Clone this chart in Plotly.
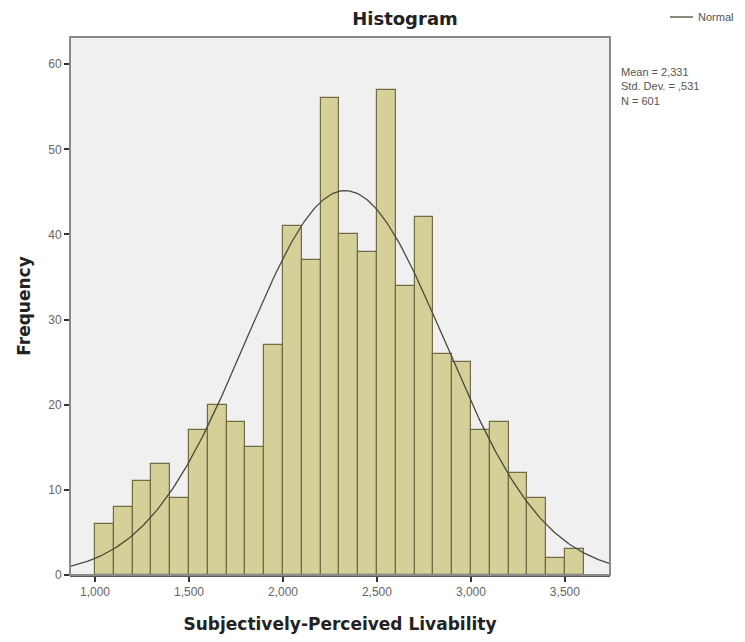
import numpy as np
import plotly.graph_objects as go

# Histogram bins (width 0.1) and counts
bin_starts = [1.0, 1.1, 1.2, 1.3, 1.4, 1.5, 1.6, 1.7, 1.8, 1.9,
              2.0, 2.1, 2.2, 2.3, 2.4, 2.5, 2.6, 2.7, 2.8, 2.9,
              3.0, 3.1, 3.2, 3.3, 3.4, 3.5]
counts = [6, 8, 11, 13, 9, 17, 20, 18, 15, 27,
          41, 37, 56, 40, 38, 57, 34, 42, 26, 25,
          17, 18, 12, 9, 2, 3]
bin_width = 0.1

# Summary statistics
mean_val = 2.331
sd_val = 0.531
n_val = 601

# Axis ticks
x_tickvals = [1.0, 1.5, 2.0, 2.5, 3.0, 3.5]
x_ticktext = ["1,000", "1,500", "2,000", "2,500", "3,000", "3,500"]
y_tickvals = [0, 10, 20, 30, 40, 50, 60]
y_ticktext = ["0", "10", "20", "30", "40", "50", "60"]

x_range = [0.867, 3.74]
y_range = [0, 63.2]

centers = [b + bin_width / 2 for b in bin_starts]

# Normal curve scaled to counts
xs = np.linspace(x_range[0], x_range[1], 300)
ys = n_val * bin_width / (sd_val * np.sqrt(2 * np.pi)) * np.exp(-0.5 * ((xs - mean_val) / sd_val) ** 2)

curve_color = "#4a4a3a"
bold_font = "DejaVu Sans, Verdana, sans-serif"

fig = go.Figure()
fig.add_trace(go.Bar(
    x=centers, y=counts, width=bin_width,
    marker=dict(color="#D5CF98", line=dict(color="#6f6b45", width=1.2)),
    showlegend=False, hoverinfo="x+y",
))
fig.add_trace(go.Scatter(
    x=xs, y=ys, mode="lines", name="Normal",
    line=dict(color=curve_color, width=1.3),
    showlegend=False,
))

fig.update_layout(
    width=745, height=642,
    margin=dict(l=70, r=135, t=37, b=67),
    paper_bgcolor="white",
    plot_bgcolor="#F0F0F0",
    bargap=0,
    showlegend=False,
    font=dict(family="Arial, Liberation Sans, sans-serif", color="#333"),
    title=dict(text="<b>Histogram</b>", x=405 / 745, xanchor="center",
               y=1 - 19 / 642, yanchor="middle",
               font=dict(size=18, color="#222", family=bold_font)),
    xaxis=dict(
        range=x_range, tickvals=x_tickvals, ticktext=x_ticktext,
        ticks="outside", ticklen=5, tickcolor="#333", tickwidth=1.5,
        tickfont=dict(size=12, color="#666"),
        showgrid=False, zeroline=False,
        showline=True, linecolor="#555", linewidth=1.5,
        title=dict(text="<b>Subjectively-Perceived Livability</b>",
                   font=dict(size=17, color="#222", family=bold_font),
                   standoff=20),
    ),
    yaxis=dict(
        range=y_range, tickvals=y_tickvals, ticktext=y_ticktext,
        ticks="outside", ticklen=5, tickcolor="#333", tickwidth=1.5,
        tickfont=dict(size=12, color="#666"),
        showgrid=False, zeroline=False,
        showline=False,
        title=dict(text="<b>Frequency</b>",
                   font=dict(size=17, color="#222", family=bold_font),
                   standoff=13),
    ),
)

# Plot frame
fig.add_shape(type="rect", xref="paper", yref="paper", x0=0, y0=0, x1=1, y1=1,
              line=dict(color="#8a8a8a", width=2), fillcolor="rgba(0,0,0,0)",
              layer="above")

# Legend key for the normal curve
fig.add_shape(type="line", xref="paper", yref="paper",
              x0=(670 - 70) / 540, x1=(693 - 70) / 540,
              y0=(575 - 17) / 538, y1=(575 - 17) / 538,
              line=dict(color=curve_color, width=1.3))
fig.add_annotation(
    xref="paper", yref="paper", x=(696 - 70) / 540, y=(575 - 17) / 538,
    xanchor="left", yanchor="middle", text="Normal", showarrow=False,
    font=dict(size=11, color="#555"),
)

fig.add_annotation(
    xref="paper", yref="paper", x=(619 - 70) / 540, y=(575 - 64) / 538,
    xanchor="left", yanchor="top",
    text=f"Mean = 2,331<br>Std. Dev. = ,531<br>N = {n_val}",
    showarrow=False, align="left", font=dict(size=11, color="#555"),
)

fig.write_html("out.html")
